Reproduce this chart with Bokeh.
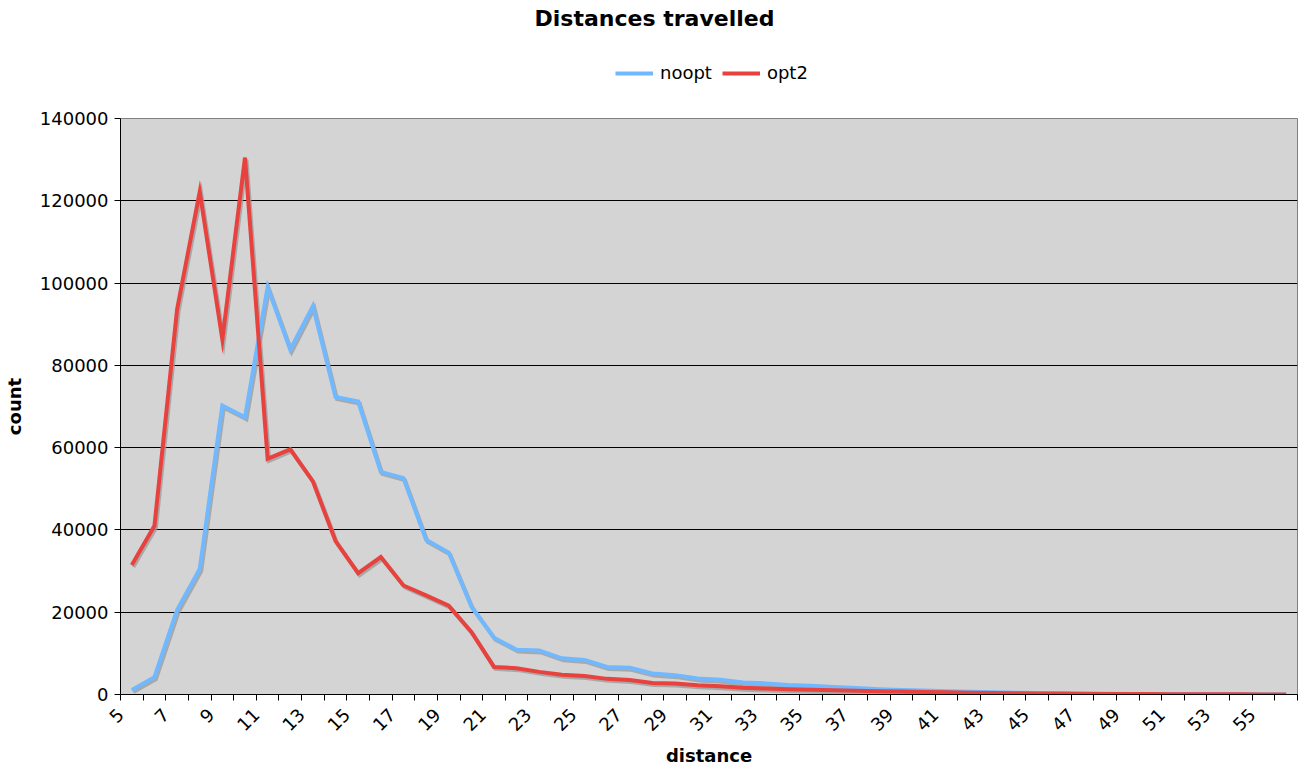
import math
from bokeh.plotting import figure
from bokeh.layouts import column
from bokeh.models import (Range1d, FixedTicker, NumeralTickFormatter, Legend, LegendItem,
                          ColumnDataSource, Label)
from bokeh.embed import file_html
from bokeh.resources import INLINE

distance = list(range(5, 57))
noopt = [1100, 4200, 20500, 30500, 70200, 67400, 99000, 83800, 94400, 72300,
         71200, 54100, 52600, 37600, 34500, 21400, 13800, 10900, 10700, 8800,
         8400, 6700, 6500, 5100, 4700, 3900, 3600, 2900, 2700, 2300,
         2100, 1800, 1600, 1300, 1100, 950, 800, 650, 520, 420,
         340, 270, 210, 170, 130, 100, 80, 60, 45, 35, 25, 18]
opt2 = [31500, 41000, 93600, 122200, 86300, 130500, 57300, 59600, 51800, 37300,
        29500, 33400, 26500, 24100, 21600, 15200, 6700, 6400, 5500, 4800,
        4500, 3800, 3500, 2800, 2650, 2250, 2000, 1650, 1450, 1280,
        1130, 1030, 900, 800, 700, 600, 520, 440, 380, 320,
        270, 220, 180, 150, 120, 100, 80, 60, 45, 35, 25, 15]
y_ticks = [0, 20000, 40000, 60000, 80000, 100000, 120000, 140000]
x_label_values = list(range(5, 56, 2))
series_names = ["noopt", "opt2"]

FONT = "DejaVu Sans"
BLUE = "#70B8FF"
RED = "#E8423E"
COLORS = [BLUE, RED]

src = ColumnDataSource(dict(x=distance, noopt=noopt, opt2=opt2))

xmin, xmax = distance[0] - 0.5, distance[-1] + 0.5
ymin, ymax = y_ticks[0], y_ticks[-1]

# ---------------- header (title + legend) ----------------
head = figure(width=1298, height=108, output_backend="svg", toolbar_location=None,
              x_range=Range1d(0, 1), y_range=Range1d(0, 1),
              x_axis_type=None, y_axis_type=None,
              min_border_left=0, min_border_right=0, min_border_top=0, min_border_bottom=0)
head.outline_line_color = None
head.xgrid.visible = False
head.ygrid.visible = False
head.background_fill_color = "white"
head.border_fill_color = "white"

title = Label(x=534, y=90, x_units="screen", y_units="screen", text="Distances travelled",
              text_font=FONT, text_font_size="22px", text_font_style="bold",
              text_color="black", text_align="center", text_baseline="middle")
head.add_layout(title)

# series lines in the header are outside its (0..1) ranges: only their legend glyphs show
legend_renderers = []
for name, c in zip(series_names, COLORS):
    legend_renderers.append(head.line("x", name, source=src, line_color=c, line_width=4))

legend = Legend(items=[LegendItem(label=n, renderers=[r]) for n, r in zip(series_names, legend_renderers)],
                orientation="horizontal", location=(495, 25))
legend.label_text_font = FONT
legend.label_text_font_size = "18px"
legend.label_text_color = "black"
legend.glyph_width = 38
legend.label_standoff = 7
legend.spacing = 10
legend.border_line_color = None
legend.background_fill_alpha = 0
legend.margin = 0
legend.padding = 6
head.add_layout(legend, "center")

# ---------------- main plot ----------------
p = figure(width=1298, height=660, output_backend="svg", toolbar_location=None,
           x_range=Range1d(xmin, xmax), y_range=Range1d(ymin, ymax),
           min_border_left=112, min_border_right=1, min_border_top=10, min_border_bottom=71)

# shadow ranges (shift lines ~2px down, ~1.5px right)
p.extra_y_ranges = {"sh": Range1d(ymin + 480, ymax + 480)}
p.extra_x_ranges = {"sh": Range1d(xmin - 0.066, xmax - 0.066)}

p.background_fill_color = "#D4D4D4"
p.border_fill_color = "white"
p.outline_line_color = "#808080"
p.outline_line_width = 1

# grid
p.xgrid.visible = False
p.ygrid.grid_line_color = "black"
p.ygrid.grid_line_width = 1
p.ygrid.ticker = FixedTicker(ticks=y_ticks)

# y axis
p.yaxis.ticker = FixedTicker(ticks=y_ticks)
p.yaxis.formatter = NumeralTickFormatter(format="0")
p.yaxis.axis_label = "count"
p.yaxis.axis_label_text_font = FONT
p.yaxis.axis_label_text_font_size = "18px"
p.yaxis.axis_label_text_font_style = "bold"
p.yaxis.axis_label_text_color = "black"
p.yaxis.axis_label_standoff = 12
p.yaxis.major_label_text_font = FONT
p.yaxis.major_label_text_font_size = "18px"
p.yaxis.major_label_text_color = "black"
p.yaxis.major_label_standoff = 6
p.yaxis.major_tick_out = 6
p.yaxis.major_tick_in = 0
p.yaxis.minor_tick_line_color = None
p.yaxis.axis_line_color = "black"
p.yaxis.major_tick_line_color = "black"

# x axis: ticks at category boundaries, labels on every other
bounds = [xmin + i for i in range(len(distance) + 1)]
overrides = {}
for b in bounds:
    overrides[b] = ""
for i, v in enumerate(x_label_values):
    overrides[xmin + 2 * i] = str(v)
p.xaxis.ticker = FixedTicker(ticks=bounds)
p.xaxis.major_label_overrides = overrides
p.xaxis.major_label_orientation = math.pi / 4
p.xaxis.axis_label = "distance"
p.xaxis.axis_label_text_font = FONT
p.xaxis.axis_label_text_font_size = "18px"
p.xaxis.axis_label_text_font_style = "bold"
p.xaxis.axis_label_text_color = "black"
p.xaxis.axis_label_standoff = 5
p.xaxis.major_label_text_font = FONT
p.xaxis.major_label_text_font_size = "18px"
p.xaxis.major_label_text_color = "black"
p.xaxis.major_label_standoff = 11
p.xaxis.major_tick_out = 6
p.xaxis.major_tick_in = 0
p.xaxis.minor_tick_line_color = None
p.xaxis.axis_line_color = "black"
p.xaxis.major_tick_line_color = "black"

# shadows
for col in series_names:
    p.line("x", col, source=src, line_color="#9A9A9A", line_width=4, line_alpha=0.75,
           x_range_name="sh", y_range_name="sh", line_join="miter")

for col, c in zip(series_names, COLORS):
    p.line("x", col, source=src, line_color=c, line_width=4, line_join="miter")

layout = column(head, p, spacing=0)
open("out.html", "w").write(file_html(layout, INLINE))
